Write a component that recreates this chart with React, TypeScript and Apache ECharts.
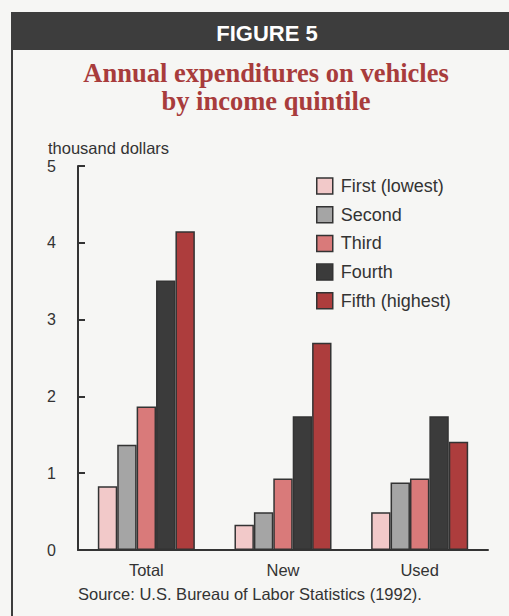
import React, { useEffect, useRef } from "react";
import * as echarts from "echarts";

const categories = ["Total", "New", "Used"];
const seriesNames = ["First (lowest)", "Second", "Third", "Fourth", "Fifth (highest)"];
const firstQ = [0.83, 0.33, 0.49];
const secondQ = [1.37, 0.49, 0.88];
const thirdQ = [1.87, 0.93, 0.93];
const fourthQ = [3.51, 1.74, 1.74];
const fifthQ = [4.15, 2.7, 1.41];
const seriesColors = ["#f2c9c9", "#a5a5a5", "#d97a7a", "#3b3b3b", "#ad3d3d"];
const yTicks = [0, 1, 2, 3, 4, 5];

const SANS = "'Liberation Sans', Arial, Helvetica, sans-serif";
const SERIF = "'Liberation Serif', 'Times New Roman', serif";

export default function App() {
  const ref = useRef<HTMLDivElement>(null);
  useEffect(() => {
    if (!ref.current) return;
    const chart = echarts.init(ref.current, null, { renderer: "svg" });
    const data = [firstQ, secondQ, thirdQ, fourthQ, fifthQ];
    chart.setOption({
      animation: false,
      backgroundColor: "#f6f6f4",
      graphic: [
        { type: "rect", shape: { x: 12, y: 12, width: 497, height: 38 }, style: { fill: "#3d3d3d" } },
        { type: "rect", shape: { x: 11, y: 12, width: 2, height: 604 }, style: { fill: "#3d3d3d" } },
        {
          type: "text", x: 267, y: 33,
          style: { text: "FIGURE 5", fill: "#ffffff", font: `bold 22px ${SANS}`, align: "center", verticalAlign: "middle" },
        },
        {
          type: "text", x: 266, y: 72.5,
          style: { text: "Annual expenditures on vehicles", fill: "#a83c3c", font: `bold 26.5px ${SERIF}`, align: "center", verticalAlign: "middle" },
        },
        {
          type: "text", x: 266, y: 100.5,
          style: { text: "by income quintile", fill: "#a83c3c", font: `bold 26.5px ${SERIF}`, align: "center", verticalAlign: "middle" },
        },
        {
          type: "text", x: 48, y: 148,
          style: { text: "thousand dollars", fill: "#333333", font: `16.5px ${SANS}`, align: "left", verticalAlign: "middle" },
        },
        {
          type: "text", x: 78, y: 594,
          style: { text: "Source: U.S. Bureau of Labor Statistics (1992).", fill: "#333333", font: `16.5px ${SANS}`, align: "left", verticalAlign: "middle" },
        },
      ],
      legend: {
        orient: "vertical",
        left: 311,
        top: 172,
        itemWidth: 16,
        itemHeight: 16,
        itemGap: 10.7,
        icon: "rect",
        textStyle: { fontFamily: SANS, fontSize: 18, color: "#333333", padding: [0, 0, 0, 3] },
        itemStyle: { borderColor: "#333333", borderWidth: 1.5 },
        data: seriesNames,
      },
      grid: { left: 78, right: 21, top: 166, bottom: 66, containLabel: false },
      xAxis: {
        type: "category",
        data: categories,
        axisLine: { lineStyle: { color: "#333333", width: 2 } },
        axisTick: { inside: true, length: 7, lineStyle: { color: "#333333", width: 2 } },
        axisLabel: { fontFamily: SANS, fontSize: 16.5, color: "#333333", margin: 11 },
      },
      yAxis: {
        type: "value",
        min: 0,
        max: 5,
        interval: 1,
        axisLine: { show: true, lineStyle: { color: "#333333", width: 2 } },
        axisTick: { show: true, inside: true, length: 7, lineStyle: { color: "#333333", width: 2 } },
        axisLabel: {
          fontFamily: SANS, fontSize: 16, color: "#333333", margin: 22,
          formatter: (v: number) => (yTicks.includes(v) ? String(v) : ""),
        },
        splitLine: { show: false },
      },
      series: seriesNames.map((name, i) => ({
        name,
        type: "bar",
        data: data[i],
        barGap: "0%",
        barCategoryGap: "29%",
        itemStyle: { color: seriesColors[i], borderColor: "#333333", borderWidth: 1.5 },
      })),
    });
    return () => chart.dispose();
  }, []);
  return (
    <div
      ref={ref}
      style={{ position: "absolute", left: 0, top: 0, width: 509, height: 616 }}
    />
  );
}
